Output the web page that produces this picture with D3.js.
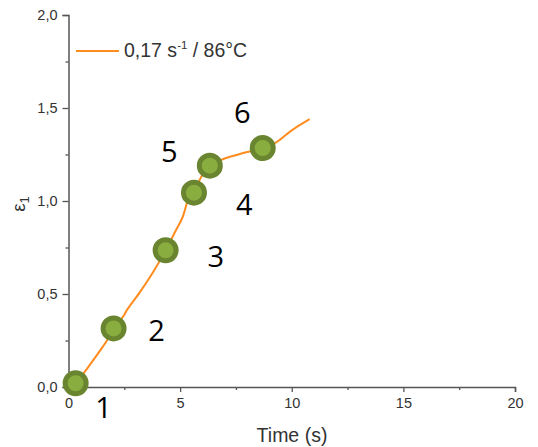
<!DOCTYPE html>
<html>
<head>
<meta charset="utf-8">
<script src="https://cdn.jsdelivr.net/npm/d3@7"></script>
<style>
  html, body { margin: 0; padding: 0; background: #fff; }
  svg { display: block; }
</style>
</head>
<body>
<svg id="chart" width="538" height="447"></svg>
<script>
// ---- data ----
const curveTime   = [0.33, 0.9, 1.5, 2.05, 2.45, 2.65, 3.2, 3.8, 4.35, 4.8, 5.1, 5.4, 5.65, 5.95, 6.3, 6.8, 7.6, 8.7, 9.3, 10.0, 10.8];
const curveStrain = [0.02, 0.11, 0.21, 0.31, 0.38, 0.42, 0.51, 0.62, 0.735, 0.84, 0.91, 1.02, 1.06, 1.13, 1.19, 1.22, 1.25, 1.285, 1.315, 1.38, 1.44];
const pointTime   = [0.32, 2.02, 4.35, 5.62, 6.33, 8.7];
const pointStrain = [0.02, 0.315, 0.735, 1.045, 1.19, 1.285];
const pointLabels = ["1", "2", "3", "4", "5", "6"];
const labelTime   = [1.57, 3.94, 6.6, 7.87, 4.52, 7.78];
const labelStrain = [-0.167, 0.247, 0.645, 0.925, 1.21, 1.42];
const xTicks = [0, 5, 10, 15, 20];
const yTicks = [0, 0.5, 1.0, 1.5, 2.0];
const xMinor = [2.5, 7.5, 12.5, 17.5];
const yMinor = [0.25, 0.75, 1.25, 1.75];
const seriesName = "0,17 s";
const seriesSup = "-1";
const seriesRest = " / 86°C";

// ---- layout ----
const svg = d3.select("#chart");
const x = d3.scaleLinear().domain([0, 20]).range([68.5, 515]);
const y = d3.scaleLinear().domain([0, 2]).range([387, 15]);
const axisColor = "#555";
const textColor = "#333";
const fmt = d => d3.format(".1f")(d).replace(".", ",");

// x axis
const gx = svg.append("g").attr("transform", `translate(0,${y(0)})`);
gx.call(d3.axisBottom(x).tickValues(xTicks).tickFormat(d => d).tickSize(5).tickPadding(6));
gx.append("g").call(d3.axisBottom(x).tickValues(xMinor).tickFormat("").tickSize(3))
  .select(".domain").remove();
// y axis
const gy = svg.append("g").attr("transform", `translate(${x(0)},0)`);
gy.call(d3.axisLeft(y).tickValues(yTicks).tickFormat(fmt).tickSize(6).tickPadding(5));
gy.append("g").call(d3.axisLeft(y).tickValues(yMinor).tickFormat("").tickSize(3))
  .select(".domain").remove();

svg.selectAll(".domain").attr("stroke", axisColor).attr("stroke-width", 1.5);
svg.selectAll(".tick line").attr("stroke", axisColor).attr("stroke-width", 1.3);
svg.selectAll(".tick text").attr("fill", textColor)
  .style("font-family", "'Liberation Sans', Arial, sans-serif").style("font-size", "14.5px");

// axis titles
svg.append("text").attr("x", 292).attr("y", 442).attr("text-anchor", "middle")
  .attr("fill", textColor).style("font-family", "'Liberation Sans', Arial, sans-serif")
  .style("font-size", "19.5px").text("Time (s)");
const yl = svg.append("text").attr("transform", "translate(25,204) rotate(-90)")
  .attr("text-anchor", "middle").attr("fill", textColor)
  .style("font-family", "'Liberation Sans', Arial, sans-serif").style("font-size", "19px");
yl.append("tspan").text("ε");
yl.append("tspan").attr("dy", 4).style("font-size", "13px").text("1");

// curve
const lineData = curveTime.map((t, i) => [t, curveStrain[i]]);
svg.append("path").datum(lineData)
  .attr("fill", "none").attr("stroke", "#ff8c1f").attr("stroke-width", 2)
  .attr("d", d3.line().x(d => x(d[0])).y(d => y(d[1])).curve(d3.curveCatmullRom.alpha(0.5)));

// points
svg.selectAll("circle.pt").data(pointTime.map((t, i) => [t, pointStrain[i]]))
  .join("circle").attr("class", "pt")
  .attr("cx", d => x(d[0])).attr("cy", d => y(d[1])).attr("r", 10.5)
  .attr("fill", "#8aad3f").attr("stroke", "#6a8530").attr("stroke-width", 5);

// point labels
svg.selectAll("text.lbl").data(pointLabels.map((l, i) => [l, labelTime[i], labelStrain[i]]))
  .join("text").attr("class", "lbl")
  .attr("x", d => x(d[1])).attr("y", d => y(d[2])).attr("text-anchor", "middle")
  .attr("fill", "#000").style("font-family", "'Open Sans', sans-serif").style("font-size", "29px")
  .text(d => d[0]);

// legend
svg.append("line").attr("x1", 76).attr("x2", 119).attr("y1", 51).attr("y2", 51)
  .attr("stroke", "#ff8c1f").attr("stroke-width", 2);
const lt = svg.append("text").attr("x", 124).attr("y", 57).attr("fill", textColor)
  .style("font-family", "'Liberation Sans', Arial, sans-serif").style("font-size", "19.5px");
lt.append("tspan").text(seriesName);
lt.append("tspan").attr("dy", -8).style("font-size", "11.5px").text(seriesSup);
lt.append("tspan").attr("dy", 8).text(seriesRest);
</script>
</body>
</html>
